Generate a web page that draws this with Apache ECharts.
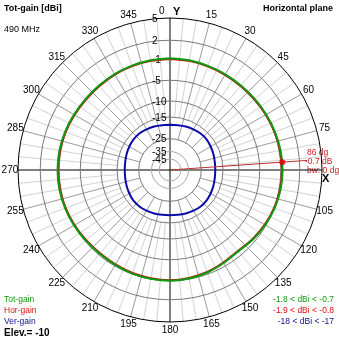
<!DOCTYPE html>
<html>
<head>
<meta charset="utf-8">
<script src="https://cdn.jsdelivr.net/npm/echarts@6/dist/echarts.min.js"></script>
<style>
  html, body { margin: 0; padding: 0; background: #ffffff; }
  #chart { width: 339px; height: 339px; }
</style>
</head>
<body>
<div id="chart"></div>
<script>
// Azimuth in degrees, clockwise from the Y axis
const azimuths = [0, 10, 20, 30, 40, 50, 60, 70, 80, 90, 100, 110, 120, 130, 140, 150, 160, 170,
                  180, 190, 200, 210, 220, 230, 240, 250, 260, 270, 280, 290, 300, 310, 320, 330, 340, 350, 360];
// Total gain, dBi
const totGain = [-0.85, -0.9, -1.0, -1.05, -1.1, -1.05, -0.95, -0.85, -0.75, -0.7, -0.75, -0.9, -1.15, -1.45, -1.8, -1.6, -1.3, -1.1,
                 -1.0, -1.05, -1.1, -1.2, -1.25, -1.15, -1.0, -0.85, -0.75, -0.72, -0.75, -0.85, -1.0, -1.1, -1.1, -1.0, -0.95, -0.9, -0.85];
// Horizontally polarised gain, dBi
const horGain = [-0.95, -1.0, -1.1, -1.15, -1.2, -1.15, -1.05, -0.95, -0.85, -0.8, -0.85, -1.0, -1.25, -1.55, -1.9, -1.7, -1.4, -1.2,
                 -1.1, -1.15, -1.2, -1.3, -1.35, -1.25, -1.1, -0.95, -0.85, -0.82, -0.85, -0.95, -1.1, -1.2, -1.2, -1.1, -1.05, -1.0, -0.95];
// Vertically polarised gain, dBi
const verGain = [-18, -17.9, -17.6, -17.3, -17.05, -17.0, -17.3, -17.6, -17.9, -18, -17.9, -17.6, -17.3, -17.05, -17.0, -17.3, -17.6, -17.9,
                 -18, -17.9, -17.6, -17.3, -17.05, -17.0, -17.3, -17.6, -17.9, -18, -17.9, -17.6, -17.3, -17.05, -17.0, -17.3, -17.6, -17.9, -18];

// Gain rings (dBi) and azimuth tick labels
const ringLevels = [5, 2, -1, -5, -10, -15, -25, -35, -45];
const azimuthLabels = [0, 15, 30, 45, 60, 75, 90, 105, 120, 135, 150, 165, 180, 195, 210, 225, 240, 255, 270, 285, 300, 315, 330, 345];

// Cursor readout
const cursorAzimuth = 86;
const cursorGain = -0.7;
const cursorBeamwidth = 0;
const elevation = -10;
const frequencyMHz = 490;

// Log-periodic radial scale: outer ring = maximum level, radius shrinks by a fixed ratio every 2 dB
const maxLevel = 5;
const ratioPer2dB = 0.9;
function gainToRadius(db) { return Math.pow(ratioPer2dB, (maxLevel - db) / 2); }

// Spoke layout: light spokes every 5 deg, darker every 15 deg, black X/Y axes
const spokes = [];
for (let a = 0; a < 360; a += 5) {
  if (a % 90 === 0) spokes.push([0, a, 2]);
  else if (a % 15 === 0) spokes.push([gainToRadius(-25), a, 1]);
  else spokes.push([gainToRadius(-15), a, 0]);
}

const FONT = 'Arial, "Liberation Sans", sans-serif';
const GREEN = '#119911';
const RED = '#dd1111';
const NAVY = '#10108a';

const chart = echarts.init(document.getElementById('chart'), null, { renderer: 'canvas' });

chart.setOption({
  animation: false,
  backgroundColor: '#ffffff',
  polar: { center: [170, 170], radius: 152 },
  angleAxis: {
    type: 'value', min: 0, max: 360, startAngle: 90, clockwise: true,
    axisLine: { show: false }, axisTick: { show: false }, axisLabel: { show: false }, splitLine: { show: false }
  },
  radiusAxis: {
    type: 'value', min: 0, max: 1,
    axisLine: { show: false }, axisTick: { show: false }, axisLabel: { show: false }, splitLine: { show: false }
  },
  series: [
    {
      // radial grid lines
      type: 'custom', coordinateSystem: 'polar', silent: true, z: 1,
      data: spokes,
      renderItem(params, api) {
        const a = api.value(1);
        const p0 = api.coord([api.value(0), a]);
        const p1 = api.coord([1, a]);
        const kind = api.value(2);
        const color = kind === 2 ? '#000000' : (kind === 1 ? '#9a9a9a' : '#d2d2d2');
        return { type: 'line', shape: { x1: p0[0], y1: p0[1], x2: p1[0], y2: p1[1] },
                 style: { stroke: color, lineWidth: 1, fill: 'none' }, z2: kind };
      }
    },
    {
      // gain rings with their level labels
      type: 'custom', coordinateSystem: 'polar', silent: true, z: 2,
      data: ringLevels.map(l => [gainToRadius(l), 0, l]),
      renderItem(params, api) {
        const cx = params.coordSys.cx, cy = params.coordSys.cy;
        const p = api.coord([api.value(0), 0]);
        const r = Math.hypot(p[0] - cx, p[1] - cy);
        const lvl = api.value(2);
        const stroke = lvl === maxLevel ? '#000000' : (lvl <= -35 ? '#a8a8a8' : '#7a7a7a');
        return { type: 'group', children: [
          { type: 'circle', shape: { cx: cx, cy: cy, r: r }, style: { fill: 'none', stroke: stroke, lineWidth: 1 } },
          { type: 'text', style: { text: String(lvl), x: cx - 18, y: cy - r + 1, align: 'left', verticalAlign: 'middle',
            font: '10px ' + FONT, fill: '#000000' } }
        ]};
      }
    },
    {
      // azimuth labels around the outer ring
      type: 'custom', coordinateSystem: 'polar', silent: true, z: 2,
      data: azimuthLabels.filter(a => a !== 0 && a !== 90).map(a => [1.053, a]),
      renderItem(params, api) {
        const p = api.coord([api.value(0), api.value(1)]);
        return { type: 'text', style: { text: String(api.value(1)), x: p[0], y: p[1], align: 'center', verticalAlign: 'middle',
          font: '10px ' + FONT, fill: '#000000' } };
      }
    },
    {
      name: 'Hor-gain', type: 'line', coordinateSystem: 'polar', z: 4, showSymbol: false, silent: true, smooth: 0.3,
      data: azimuths.map((a, i) => [gainToRadius(horGain[i]), a]),
      lineStyle: { color: '#c0140c', width: 2 }
    },
    {
      name: 'Tot-gain', type: 'line', coordinateSystem: 'polar', z: 5, showSymbol: false, silent: true, smooth: 0.3,
      data: azimuths.map((a, i) => [gainToRadius(totGain[i]), a]),
      lineStyle: { color: GREEN, width: 2 }
    },
    {
      name: 'Ver-gain', type: 'line', coordinateSystem: 'polar', z: 5, showSymbol: false, silent: true, smooth: 0.3,
      data: azimuths.map((a, i) => [gainToRadius(verGain[i]), a]),
      lineStyle: { color: '#0a0aa8', width: 2 }
    },
    {
      // cursor line
      type: 'line', coordinateSystem: 'polar', z: 6, showSymbol: false, silent: true,
      data: [[0, cursorAzimuth], [0.905, cursorAzimuth]],
      lineStyle: { color: '#b83030', width: 1 }
    },
    {
      // cursor point
      type: 'scatter', coordinateSystem: 'polar', z: 7, silent: true,
      data: [[gainToRadius(cursorGain), cursorAzimuth]],
      symbolSize: 6, itemStyle: { color: '#e00000' }
    }
  ],
  graphic: [
    { type: 'text', left: 4, top: 4, style: { text: 'Tot-gain [dBi]', font: 'bold 9px ' + FONT, fill: '#000' } },
    { type: 'text', left: 4, top: 25, style: { text: frequencyMHz + ' MHz', font: '9px ' + FONT, fill: '#000' } },
    { type: 'text', right: 6, top: 4, style: { text: 'Horizontal plane', font: 'bold 9px ' + FONT, fill: '#000' } },
    { type: 'text', left: 159, top: 6, style: { text: '0', font: '10px ' + FONT, fill: '#000' } },
    { type: 'text', left: 173, top: 6, style: { text: 'Y', font: 'bold 11px ' + FONT, fill: '#000' } },
    { type: 'text', left: 322, top: 173, style: { text: 'X', font: 'bold 11px ' + FONT, fill: '#000' } },
    { type: 'text', left: 307, top: 148, style: { text: cursorAzimuth + ' dg', font: '8.5px ' + FONT, fill: '#cc2020' } },
    { type: 'text', left: 305, top: 157, style: { text: cursorGain.toFixed(1) + ' dB', font: '8.5px ' + FONT, fill: '#cc2020' } },
    { type: 'text', left: 307, top: 166, style: { text: 'bw: ' + cursorBeamwidth + ' dg', font: '8.5px ' + FONT, fill: '#cc2020' } },
    { type: 'text', left: 4, top: 295, style: { text: 'Tot-gain', font: '8.5px ' + FONT, fill: GREEN } },
    { type: 'text', left: 4, top: 306, style: { text: 'Hor-gain', font: '8.5px ' + FONT, fill: RED } },
    { type: 'text', left: 4, top: 317, style: { text: 'Ver-gain', font: '8.5px ' + FONT, fill: NAVY } },
    { type: 'text', left: 4, top: 328, style: { text: 'Elev.= ' + elevation, font: 'bold 10px ' + FONT, fill: '#000' } },
    { type: 'text', right: 5, top: 295, style: { text: Math.min(...totGain).toFixed(1) + ' < dBi < ' + Math.max(...totGain).toFixed(1), font: '8.5px ' + FONT, fill: GREEN } },
    { type: 'text', right: 5, top: 306, style: { text: Math.min(...horGain).toFixed(1) + ' < dBi < ' + Math.max(...horGain).toFixed(1), font: '8.5px ' + FONT, fill: RED } },
    { type: 'text', right: 5, top: 317, style: { text: Math.min(...verGain).toFixed(0) + ' < dBi < ' + Math.max(...verGain).toFixed(0), font: '8.5px ' + FONT, fill: NAVY } }
  ]
});
</script>
</body>
</html>
